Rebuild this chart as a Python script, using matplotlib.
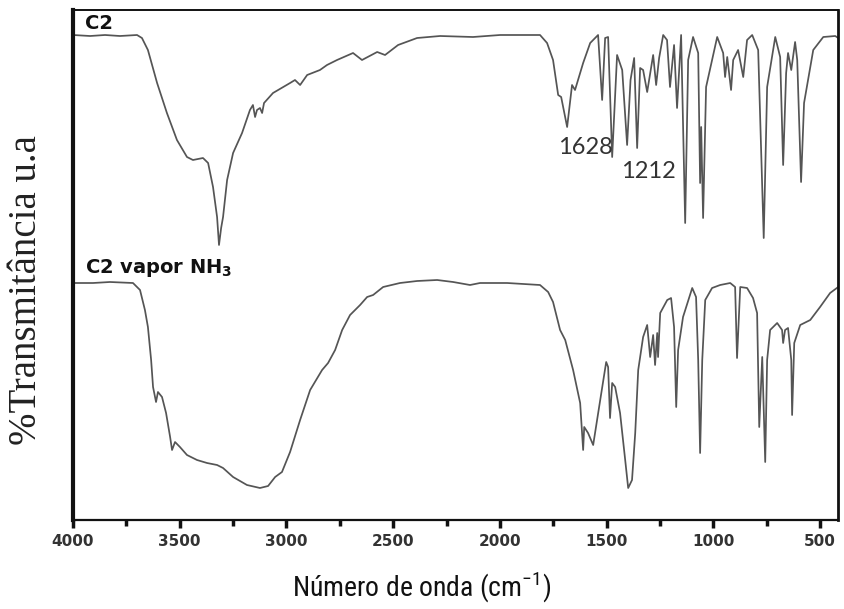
import matplotlib
matplotlib.use("Agg")
import matplotlib.pyplot as plt
from matplotlib import font_manager
from matplotlib.ticker import MultipleLocator

# ---- data: C2 (top) ----
c2_wn = [4000, 3920, 3850, 3780, 3700, 3677, 3649, 3606, 3560, 3513, 3466, 3438, 3391, 3367,
         3344, 3325, 3316, 3306, 3297, 3278, 3250, 3208, 3171, 3157, 3147, 3138, 3124, 3114,
         3105, 3063, 2983, 2960, 2936, 2903, 2843, 2810, 2763, 2688, 2646, 2575, 2538, 2477,
         2388, 2280, 2126, 1999, 1812, 1779, 1751, 1727, 1713, 1685, 1662, 1648, 1610, 1577,
         1540, 1521, 1507, 1493, 1474, 1451, 1427, 1404, 1388, 1371, 1357, 1343, 1329, 1310,
         1282, 1268, 1254, 1235, 1217, 1203, 1184, 1170, 1151, 1132, 1118, 1095, 1071, 1062,
         1057, 1048, 1034, 982, 954, 945, 935, 917, 907, 884, 860, 842, 818, 790, 764, 748,
         710, 687, 673, 659, 650, 635, 617, 607, 589, 575, 532, 485, 429, 415]
c2_T = [485, 484, 485, 484, 485, 482, 470, 437, 407, 380, 363, 360, 362, 357,
        333, 303, 275, 292, 303, 340, 367, 387, 410, 415, 403, 410, 412, 407,
        417, 427, 437, 440, 435, 445, 450, 455, 460, 467, 460, 468, 465, 475,
        482, 484, 483, 485, 485, 477, 460, 425, 423, 393, 435, 430, 457, 477,
        485, 420, 482, 483, 363, 465, 450, 375, 440, 462, 372, 452, 450, 428,
        465, 435, 462, 485, 480, 433, 475, 412, 485, 297, 460, 483, 467, 337,
        393, 302, 433, 483, 467, 443, 463, 430, 460, 470, 443, 480, 485, 470, 282, 433,
        483, 463, 355, 447, 467, 450, 478, 460, 338, 417, 470, 483, 484, 482]

# ---- data: C2 vapor NH3 (bottom) ----
nh3_wn = [4000, 3906, 3827, 3719, 3686, 3663, 3649, 3634, 3625, 3611, 3602, 3583, 3564, 3545,
          3536, 3522, 3499, 3466, 3419, 3372, 3325, 3297, 3250, 3185, 3124, 3086, 3053, 3021,
          2983, 2936, 2889, 2833, 2805, 2772, 2739, 2702, 2655, 2622, 2594, 2547, 2468, 2388,
          2294, 2219, 2140, 2093, 1966, 1812, 1774, 1751, 1718, 1694, 1657, 1624, 1610, 1605,
          1587, 1563, 1530, 1502, 1493, 1484, 1474, 1460, 1437, 1413, 1399, 1381, 1366, 1352,
          1329, 1310, 1296, 1282, 1273, 1263, 1259, 1249, 1216, 1198, 1184, 1174, 1165, 1142,
          1099, 1081, 1071, 1062, 1052, 1038, 1006, 968, 921, 898, 889, 874, 842, 814, 795,
          785, 771, 757, 748, 734, 701, 678, 673, 664, 650, 635, 631, 621, 593, 546, 500,
          453, 415]
nh3_T = [237, 237, 238, 237, 230, 210, 193, 160, 133, 118, 128, 123, 107, 83,
         70, 78, 73, 65, 60, 57, 55, 52, 43, 35, 32, 34, 43, 48,
         68, 100, 130, 150, 157, 170, 190, 205, 215, 223, 225, 233, 237, 239,
         240, 238, 235, 237, 237, 235, 228, 218, 190, 180, 150, 117, 70, 93,
         87, 75, 120, 158, 153, 102, 137, 133, 107, 60, 32, 40, 87, 150,
         183, 195, 163, 185, 155, 187, 163, 207, 220, 222, 193, 113, 170, 203,
         232, 223, 160, 67, 160, 220, 232, 235, 237, 233, 162, 233, 232, 222, 207,
         93, 163, 58, 160, 190, 197, 190, 177, 190, 192, 160, 105, 177, 195, 200, 213,
         227, 233]

annot_labels = ["1628", "1212"]
annot_wn = [1601, 1306]
annot_T = [372, 348]

series_labels = ["C2", "C2 vapor NH$_\\mathbf{3}$"]
xticks = [4000, 3500, 3000, 2500, 2000, 1500, 1000, 500]

# ---- fonts ----
available = {f.name for f in font_manager.fontManager.ttflist}
def pick(*names):
    for n in names:
        if n in available:
            return n
    return "DejaVu Sans"
narrow = pick("Liberation Sans Narrow", "DejaVu Sans Condensed", "Roboto Condensed", "Liberation Sans")
serif = pick("Liberation Serif", "DejaVu Serif")
annot_font = pick("Lato", "Open Sans", "DejaVu Sans")

fig = plt.figure(figsize=(8.44, 6.09), dpi=100)
ax = fig.add_axes([73/844, (609-520)/609, (838-73)/844, 510/609])

line_kw = dict(color="#555555", lw=1.25)
ax.plot(c2_wn, c2_T, **line_kw)
ax.plot(nh3_wn, nh3_T, **line_kw)

ax.set_xlim(4000, 416)
ax.set_ylim(0, 510)

ax.set_xticks(xticks)
ax.xaxis.set_minor_locator(MultipleLocator(250))
ax.tick_params(axis="x", which="major", direction="out", length=6, width=2.5,
               labelsize=11, pad=4, colors="#111", labelcolor="#333")
ax.tick_params(axis="x", which="minor", direction="out", length=4, width=2.5, colors="#111")
for lab in ax.get_xticklabels():
    lab.set_fontweight("bold")
ax.set_yticks([])

ax.spines["left"].set_linewidth(3.0)
ax.spines["bottom"].set_linewidth(1.6)
ax.spines["top"].set_linewidth(1.4)
ax.spines["right"].set_linewidth(2.0)
for s in ax.spines.values():
    s.set_color("#111")

ax.text(0.016, 0.993, series_labels[0], transform=ax.transAxes, ha="left", va="top",
        fontsize=14, fontweight="bold", color="#111")
ax.text(0.016, 0.515, series_labels[1], transform=ax.transAxes, ha="left", va="top",
        fontsize=14, fontweight="bold", color="#111")

for t, w, y in zip(annot_labels, annot_wn, annot_T):
    ax.text(w, y, t, ha="center", va="center", fontsize=17, family=annot_font, color="#333")

ax.set_ylabel("%Transmitância u.a", family=serif, fontsize=28, color="#222")
ax.yaxis.set_label_coords(-0.036, 0.45)
ax.set_xlabel("Número de onda (cm$^{\\mathregular{-1}}$)", family=narrow, fontsize=20,
              color="#111")
ax.xaxis.set_label_coords(0.455, -0.098)

fig.savefig("out.png", dpi=100, facecolor="white")
